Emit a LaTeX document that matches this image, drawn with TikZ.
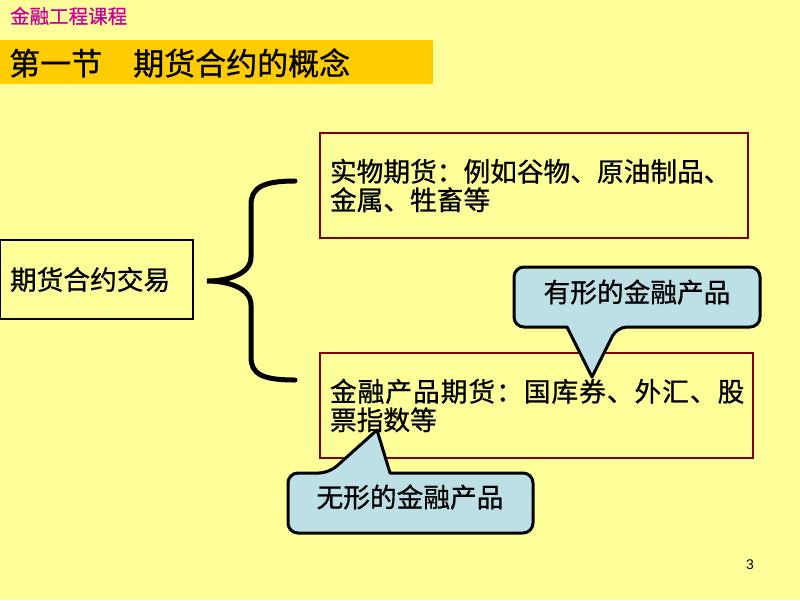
\documentclass[tikz,border=0pt]{standalone}
\usepackage{fontspec}
\setmainfont{Liberation Sans}
\newfontfamily\cjk[FakeBold=0.8]{Noto Sans CJK SC}
\newfontfamily\cjkls[FakeBold=0.8,LetterSpace=3.7]{Noto Sans CJK SC}
\newfontfamily\cjklight{Noto Sans CJK SC}
\definecolor{bgyellow}{HTML}{FFFF99}
\definecolor{barorange}{HTML}{FFCC00}
\definecolor{coursemag}{HTML}{CC0099}
\definecolor{boxred}{HTML}{800000}
\definecolor{calloutblue}{HTML}{BCE0E6}
\tikzset{
  bodytext/.style={font=\cjk\fontsize{26.7}{28.5}\selectfont},
  plainbox/.style={draw=black, line width=1.2pt, inner xsep=10pt, inner ysep=0pt, align=left, bodytext},
  itembox/.style={draw=boxred, line width=1.2pt, inner xsep=10pt, inner ysep=0pt, align=left, bodytext, minimum height=105pt},
  calloutshape/.style={fill=calloutblue, draw=black, line width=3pt, line join=round},
  callouttext/.style={inner sep=0pt, bodytext},
  bracepath/.style={draw=black, line width=5pt, line cap=round}
}
\begin{document}
\begin{tikzpicture}[x=1pt,y=-1pt]
\fill[bgyellow] (0,0) rectangle (800,600);
\useasboundingbox (0,0) rectangle (800,600);
% header
\fill[barorange] (0,40) rectangle (433,84);
\node[anchor=west, inner sep=0pt, text=coursemag, font=\cjk\fontsize{19.5}{19.5}\selectfont] (course) at (10,16) {金融工程课程};
\node[anchor=west, inner sep=0pt, font=\cjk\fontsize{31}{31}\selectfont] (title) at (9,63) {第一节\hspace{31pt}期货合约的概念};
% left box
\node[plainbox, text width=173pt, minimum height=79pt] (trade) at (96.5,279.5) {期货合约交易};
% item boxes
\node[itembox, text width=408pt] (physical) at (534,185.5) {实物期货：例如谷物、原油制品、\\金属、牲畜等};
\node[itembox, text width=413pt] (financial) at (536.5,405.5) {{\cjkls 金融产品期货：国库券、外汇、股}\\票指数等};
% brace
\coordinate (btop) at (295,181);
\coordinate (btip) at (207,281);
\coordinate (bbot) at (295,380);
\draw[bracepath] (btop) .. controls (262,181) and (251,188) .. (251,205)
  -- (251,257) .. controls (251,274) and (228,281) .. (btip)
  .. controls (228,281) and (251,288) .. (251,305)
  -- (251,357) .. controls (251,374) and (262,380) .. (bbot);
% callout 1
\draw[calloutshape] (637,267) [rounded corners=10pt] -- (760,267) -- (760,327) -- (617,327) [sharp corners] -- (592,377) -- (567,327) [rounded corners=10pt] -- (514,327) -- (514,267) -- cycle;
\node[callouttext] (tangible) at (637,292) {有形的金融产品};
% callout 2
\draw[calloutshape] (410,533) [rounded corners=10pt] -- (288,533) -- (288,473) -- (329,473) [sharp corners] -- (377,430) -- (390,473) [rounded corners=10pt] -- (533,473) -- (533,533) -- cycle;
\node[callouttext] (intangible) at (410,497) {无形的金融产品};
% page number
\node[inner sep=0pt, font=\fontsize{14}{14}\selectfont] (pagenum) at (750,565) {3};
\end{tikzpicture}
\end{document}
